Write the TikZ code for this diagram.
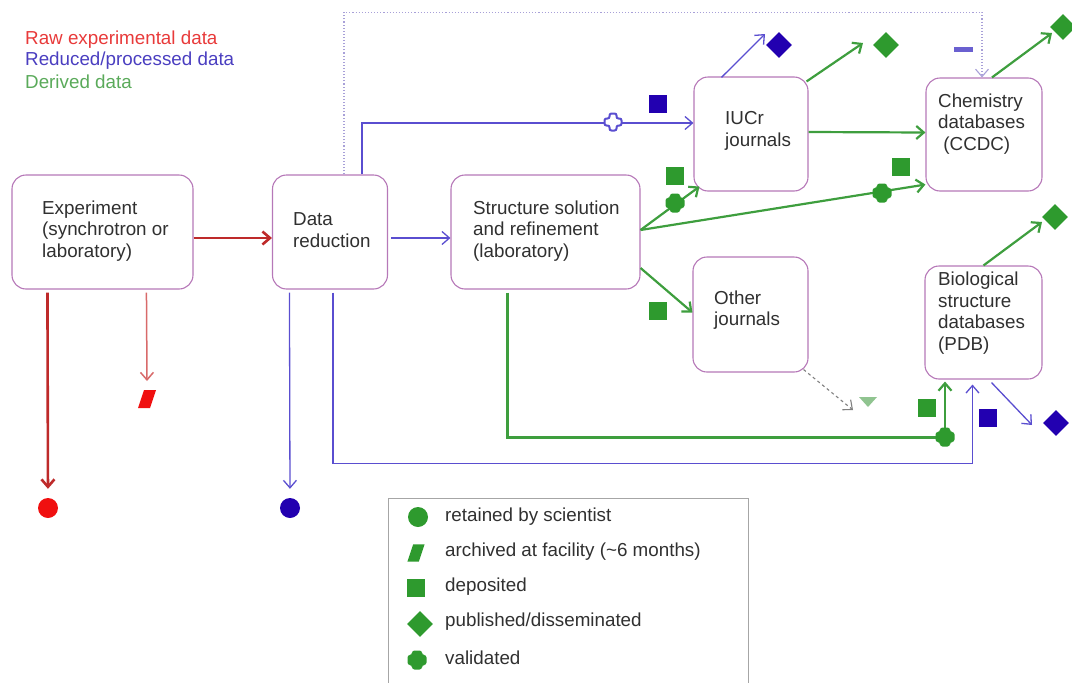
\documentclass[tikz,border=0pt]{standalone}
\usepackage{fontspec}
\setmainfont{Liberation Sans}
\usetikzlibrary{arrows.meta,shapes.geometric,calc}
\definecolor{boxc}{HTML}{B678B8}
\definecolor{rawred}{HTML}{BE2A2A}
\definecolor{lightred}{HTML}{D86A6A}
\definecolor{mkred}{HTML}{F01010}
\definecolor{bline}{HTML}{5A4ED0}
\definecolor{mkblue}{HTML}{2200B0}
\definecolor{gline}{HTML}{3E9E3E}
\definecolor{mkgreen}{HTML}{2E9A2E}
\definecolor{lgred}{HTML}{E83A3A}
\definecolor{lgblue}{HTML}{4A3EC0}
\definecolor{lggreen}{HTML}{5AAA5A}
\definecolor{dotc}{HTML}{A8A0D8}
\definecolor{dashc}{HTML}{808080}
\definecolor{tric}{HTML}{90C490}
\definecolor{dashblue}{HTML}{6A60D0}
\definecolor{txtc}{HTML}{303030}
\begin{document}
\begin{tikzpicture}[x=1pt,y=-1pt,
  box/.style={draw=boxc, line width=1.1pt, rounded corners=14pt, fill=white, inner sep=0pt},
  txt/.style={anchor=west, align=left, inner sep=0pt, text=txtc, font=\fontsize{18.8}{21.5}\selectfont},
  tip/.style={-{Straight Barb[length=7.5pt,width=13pt]}},
  redthick/.style={draw=rawred, line width=2.6pt},
  redthin/.style={draw=lightred, line width=1.5pt},
  bl/.style={draw=bline, line width=1.3pt},
  gl/.style={draw=gline, line width=2.2pt},
  dotl/.style={draw=dotc, line width=1.1pt, dotted},
  dashl/.style={draw=dashc, line width=1.1pt, dashed},
  circm/.style={circle, inner sep=0pt, minimum size=20pt},
  sqm/.style={rectangle, inner sep=0pt, minimum size=18pt},
  diam/.style={diamond, inner sep=0pt, minimum width=26pt, minimum height=26pt},
  parpic/.pic={\fill (-9,9) -- (-3,-9) -- (9,-9) -- (3,9) -- cycle;},
  plusm/.pic={\fill[rounded corners=2.5pt] (-5,-9.5) -- (5,-9.5) -- (5,-5) -- (9.5,-5) -- (9.5,5) -- (5,5) -- (5,9.5) -- (-5,9.5) -- (-5,5) -- (-9.5,5) -- (-9.5,-5) -- (-5,-5) -- cycle;},
  plusout/.pic={\filldraw[fill=white, draw=bline, line width=2pt, rounded corners=2pt] (-3.5,-8.5) -- (3.5,-8.5) -- (3.5,-3.5) -- (8.5,-3.5) -- (8.5,3.5) -- (3.5,3.5) -- (3.5,8.5) -- (-3.5,8.5) -- (-3.5,3.5) -- (-8.5,3.5) -- (-8.5,-3.5) -- (-3.5,-3.5) -- cycle;},
  lgt/.style={anchor=west, inner sep=0pt, font=\fontsize{18.8}{21}\selectfont}
]
\useasboundingbox (0,0) rectangle (1072,683);

% top-left legend
\node[lgt, text=lgred] (lraw) at (25,40) {Raw experimental data};
\node[lgt, text=lgblue] (lred) at (25,61) {Reduced/processed data};
\node[lgt, text=lggreen] (lder) at (25,82) {Derived data};

% boxes
\node[box, minimum width=181pt, minimum height=114pt] (exp) at (102.5,232) {};
\node[box, minimum width=115pt, minimum height=114pt] (dr) at (330,232) {};
\node[box, minimum width=189pt, minimum height=114pt] (ss) at (545.5,232) {};
\node[box, minimum width=114pt, minimum height=114pt] (iucr) at (751,134) {};
\node[box, minimum width=116pt, minimum height=113pt] (chem) at (984,134.5) {};
\node[box, minimum width=115pt, minimum height=115pt] (other) at (750.5,314.5) {};
\node[box, minimum width=117pt, minimum height=113pt] (bio) at (983.5,322.5) {};

% box texts
\node[txt] (texp) at (42,231) {Experiment\\(synchrotron or\\laboratory)};
\node[txt] (tdr) at (293,230) {Data\\reduction};
\node[txt] (tss) at (473,231) {Structure solution\\and refinement\\(laboratory)};
\node[txt] (tiucr) at (725,131) {IUCr\\journals};
\node[txt] (tchem) at (938,124) {Chemistry\\databases\\\ (CCDC)};
\node[txt] (tother) at (714,310) {Other\\journals};
\node[txt] (tbio) at (938,313) {Biological\\structure\\databases\\(PDB)};

% end coordinates
\coordinate (e1) at (765,34);
\coordinate (e2) at (863,43);
\coordinate (e3) at (1052,33);
\coordinate (e4) at (1042,222);
\coordinate (e5) at (1032,425);
\coordinate (e6) at (853,410);
\coordinate (rp) at (147,381);

% markers (nodes) used as connector targets
\node[circm, fill=mkred] (rc) at (48,508) {};
\pic[mkred] at (147,399) {parpic};
\node[circm, fill=mkblue] (bc) at (290,508) {};

% connectors
\draw[redthick, tip] ($(exp.east)+(0,6)$) -- ($(dr.west)+(0,6)$);
\draw[redthick, tip, shorten >=9pt] ($(exp.south west)+(36,3)$) -- (rc.north);
\draw[redthin, tip] ($(exp.south west)+(135,3)$) -- (rp);
\draw[bl, tip, shorten >=9pt] ($(dr.south west)+(17.5,3)$) -- (bc.north);
\draw[bl, tip] ($(dr.south west)+(61,3)$) -- ++(0,171) -| ($(bio.south)+(-11,5)$);
\draw[gl, tip] ($(ss.south west)+(57,3)$) -- ++(0,145) -| ($(bio.south)+(-38.5,2)$);
\draw[bl, tip] ($(dr.east)+(3,6)$) -- ($(ss.west)+(0,6)$);
\draw[bl, tip] ($(dr.north west)+(90,0)$) |- ($(iucr.west)+(0,-11)$);
\draw[dotl, tip] ($(dr.north west)+(72,0)$) -- ++(0,-162) -| ($(chem.north)+(-2,0)$);
\draw[bl, tip] ($(iucr.north west)+(28,1)$) -- (e1);
\draw[gl, tip] ($(iucr.north east)+(-2,5)$) -- (e2);
\draw[gl, tip] ($(iucr.east)+(0,-2)$) -- ($(chem.west)+(0,-2)$);
\draw[gl, tip] ($(chem.north)+(8,0)$) -- (e3);
\draw[gl, tip] ($(ss.east)+(0,-2)$) -- ($(iucr.south west)+(6,-5)$);
\draw[gl, tip] ($(ss.east)+(0,-2)$) -- ($(chem.south west)+(0,-7)$);
\draw[gl, tip] ($(ss.east)+(0,36)$) -- ($(other.west)+(0,-2)$);
\draw[gl, tip] (bio.north) -- (e4);
\draw[bl, tip] ($(bio.south)+(8,3)$) -- (e5);
\draw[dashl, tip] ($(other.south east)+(-5,-3)$) -- (e6);

% other markers
\node[sqm, fill=mkblue] (bsq1) at (658,104) {};
\pic at (613,122) {plusout};
\node[diam, fill=mkblue] (bdia1) at (779,45) {};
\node[diam, fill=mkgreen] (gdia1) at (886,45) {};
\node[rectangle, inner sep=0pt, minimum width=19pt, minimum height=5pt, fill=dashblue] (bdash) at (963,49) {};
\node[diam, fill=mkgreen] (gdia2) at (1063,27) {};
\node[sqm, fill=mkgreen] (gsq1) at (901,167) {};
\pic[mkgreen] at (882,193) {plusm};
\node[sqm, fill=mkgreen] (gsq2) at (675,176) {};
\pic[mkgreen] at (675,203) {plusm};
\node[sqm, fill=mkgreen] (gsq3) at (658,311) {};
\fill[tric] (859,397) -- (877,397) -- (868,407) -- cycle;
\node[sqm, fill=mkgreen] (gsq4) at (927,408) {};
\pic[mkgreen] at (945,437) {plusm};
\node[sqm, fill=mkblue] (bsq2) at (988,418) {};
\node[diam, fill=mkblue] (bdia2) at (1056,423) {};
\node[diam, fill=mkgreen] (gdia3) at (1055,217) {};

% legend box
\draw[draw=gray!70, line width=1pt] (388,683) -- (388,498) -- (748,498) -- (748,683);
\node[circm, fill=mkgreen] (kc) at (418,517) {};
\pic[mkgreen, scale=0.95] at (416,553) {parpic};
\node[sqm, fill=mkgreen] (ks) at (416,588) {};
\node[diam, fill=mkgreen] (kd) at (420,624) {};
\pic[mkgreen] at (417,660) {plusm};
\node[lgt, text=txtc] (t1) at (445,517) {retained by scientist};
\node[lgt, text=txtc] (t2) at (445,552) {archived at facility (\textasciitilde6 months)};
\node[lgt, text=txtc] (t3) at (445,587) {deposited};
\node[lgt, text=txtc] (t4) at (445,622) {published/disseminated};
\node[lgt, text=txtc] (t5) at (445,658) {validated};
\end{tikzpicture}
\end{document}
